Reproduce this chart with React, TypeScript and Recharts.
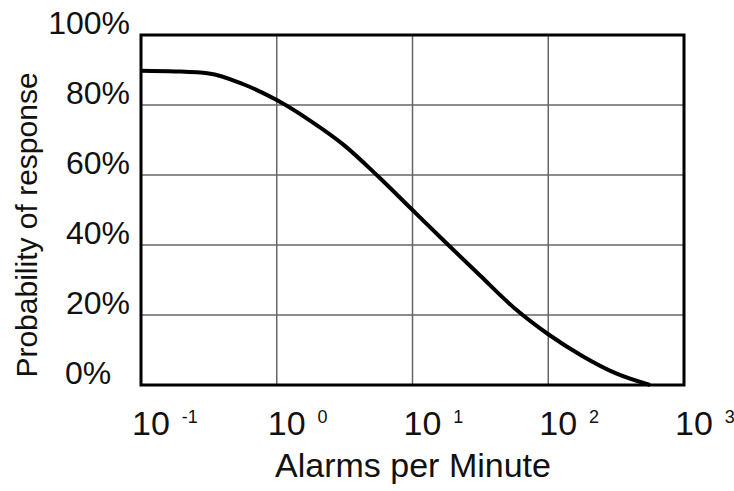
import React from 'react';
import { LineChart, Line, XAxis, YAxis, CartesianGrid, ReferenceArea } from 'recharts';

const alarmsPerMinute = [0.1, 0.178, 0.316, 0.562, 1.0, 1.78, 3.16, 5.62, 10, 17.8, 31.6, 56.2, 100, 178, 316, 562];
const probability = [89.8, 89.6, 89.0, 86.0, 81.4, 75.4, 68.4, 59.5, 50, 40.5, 31.2, 22.0, 14.5, 8.3, 3.3, 0];
const xTicks = [0.1, 1, 10, 100, 1000];
const xExponents = ['-1', '0', '1', '2', '3'];
const yTicks = [0, 20, 40, 60, 80, 100];

const data = alarmsPerMinute.map((x, i) => ({ x, p: probability[i] }));

const FONT = '"Liberation Sans", Arial, Helvetica, sans-serif';

const XTick = (props: any) => {
  const { x, payload } = props;
  const idx = xTicks.indexOf(payload.value);
  return (
    <text x={x - 9} y={435} textAnchor="start" fontFamily={FONT} fill="#111">
      <tspan fontSize={34}>10</tspan>
      <tspan fontSize={18} dx={12} dy={-12}>{xExponents[idx]}</tspan>
    </text>
  );
};

const YTick = (props: any) => {
  const { y, payload } = props;
  const v = payload.value;
  const isZero = v === 0;
  return (
    <text
      x={isZero ? 65 : 130}
      y={y - 1}
      textAnchor={isZero ? 'start' : 'end'}
      fontFamily={FONT}
      fontSize={32}
      fill="#111"
    >
      {`${v}%`}
    </text>
  );
};

const XLabel = () => (
  <text x={413} y={477} textAnchor="middle" fontFamily={FONT} fontSize={34} fill="#111">
    Alarms per Minute
  </text>
);

const YLabel = () => (
  <text
    x={37}
    y={225}
    transform="rotate(-90, 37, 225)"
    textAnchor="middle"
    fontFamily={FONT}
    fontSize={30}
    fill="#111"
  >
    Probability of response
  </text>
);

export default function App() {
  return (
    <div style={{ position: 'absolute', left: 0, top: 0, background: '#fff' }}>
      <LineChart
        width={734}
        height={491}
        data={data}
        margin={{ top: 35, right: 50, left: 0, bottom: 0 }}
      >
        <CartesianGrid stroke="#666" strokeWidth={1.5} />
        <XAxis
          dataKey="x"
          type="number"
          scale="log"
          domain={[0.1, 1000]}
          ticks={xTicks}
          allowDataOverflow
          axisLine={false}
          tickLine={false}
          height={106}
          tick={<XTick />}
          interval={0}
          label={<XLabel />}
        />
        <YAxis
          type="number"
          domain={[0, 100]}
          ticks={yTicks}
          axisLine={false}
          tickLine={false}
          width={141}
          tick={<YTick />}
          interval={0}
          label={<YLabel />}
        />
        <ReferenceArea x1={0.1} x2={1000} y1={0} y2={100} fill="none" stroke="#000" strokeWidth={3} />
        <Line
          type="monotone"
          dataKey="p"
          stroke="#000"
          strokeWidth={4}
          dot={false}
          isAnimationActive={false}
        />
      </LineChart>
    </div>
  );
}
